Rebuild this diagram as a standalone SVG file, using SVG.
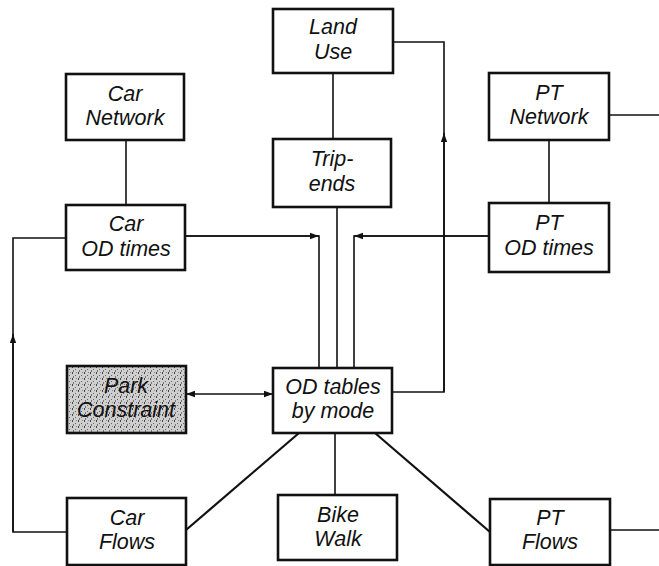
<svg xmlns="http://www.w3.org/2000/svg" width="659" height="566" viewBox="0 0 659 566">
<style>
.box{fill:#fff;stroke:#111;stroke-width:2.6}
.t{font-family:"Liberation Sans",Arial,sans-serif;font-style:italic;font-size:21.5px;fill:#111;text-anchor:middle}
.c{fill:none;stroke:#111;stroke-width:1.6}
.d{fill:none;stroke:#111;stroke-width:2.2}
</style>
<defs>
<marker id="ah" viewBox="0 0 10 10" refX="10" refY="5" markerWidth="9" markerHeight="9" markerUnits="userSpaceOnUse" orient="auto-start-reverse"><path d="M0,1.5 L10,5 L0,8.5 Z" fill="#111"/></marker>
<pattern id="stip" width="6" height="6" patternUnits="userSpaceOnUse">
<rect width="6" height="6" fill="#cfcfcf"/>
<rect x="0" y="0" width="1" height="2" fill="#444"/>
<rect x="3" y="3" width="1" height="1" fill="#666"/>
<rect x="4" y="0" width="1" height="1" fill="#888"/>
<rect x="1" y="4" width="1" height="2" fill="#777"/>
</pattern>
</defs>
<g id="connectors">
<line class="c" x1="333" y1="73" x2="333" y2="139"/>
<line class="c" x1="126" y1="140" x2="126" y2="205"/>
<line class="c" x1="549" y1="140" x2="549" y2="203"/>
<line class="c" x1="609" y1="115" x2="659" y2="115"/>
<polyline class="c" points="393,42 444,42 444,392 392,392"/>
<line class="c" x1="444" y1="392" x2="444" y2="133" marker-end="url(#ah)"/>
<line class="c" x1="337" y1="207" x2="337" y2="368"/>
<polyline class="c" points="185,236 319,236 319,368"/>
<line class="c" x1="185" y1="236" x2="319" y2="236" marker-end="url(#ah)"/>
<polyline class="c" points="489,236 354,236 354,368"/>
<line class="c" x1="489" y1="236" x2="354" y2="236" marker-end="url(#ah)"/>
<polyline class="c" points="66,238 13,238 13,532 67,532"/>
<line class="c" x1="13" y1="532" x2="13" y2="334" marker-end="url(#ah)"/>
<line class="c" x1="186" y1="394" x2="273" y2="394" marker-start="url(#ah)" marker-end="url(#ah)"/>
<line class="d" x1="186" y1="530" x2="299" y2="433"/>
<line class="c" x1="335" y1="433" x2="335" y2="495"/>
<line class="d" x1="375" y1="433" x2="490" y2="532"/>
<line class="c" x1="610" y1="530" x2="659" y2="530"/>
</g>
<g id="land-use"><rect class="box" x="273" y="9" width="120" height="64"/><text class="t" x="333" y="34">Land</text><text class="t" x="333" y="59">Use</text></g>
<g id="trip-ends"><rect class="box" x="273" y="139" width="118" height="68"/><text class="t" x="332" y="166">Trip-</text><text class="t" x="332" y="191">ends</text></g>
<g id="car-network"><rect class="box" x="66" y="74" width="118" height="66"/><text class="t" x="125" y="101">Car</text><text class="t" x="125" y="125">Network</text></g>
<g id="car-od-times"><rect class="box" x="66" y="205" width="119" height="65"/><text class="t" x="126" y="231">Car</text><text class="t" x="126" y="256">OD times</text></g>
<g id="pt-network"><rect class="box" x="489" y="73" width="120" height="67"/><text class="t" x="549" y="100">PT</text><text class="t" x="549" y="124">Network</text></g>
<g id="pt-od-times"><rect class="box" x="489" y="203" width="120" height="69"/><text class="t" x="549" y="230">PT</text><text class="t" x="549" y="255">OD times</text></g>
<g id="park-constraint"><rect class="box" x="67" y="366" width="119" height="67" style="fill:url(#stip)"/><text class="t" x="126" y="393">Park</text><text class="t" x="126" y="417">Constraint</text></g>
<g id="od-tables"><rect class="box" x="273" y="368" width="119" height="65"/><text class="t" x="333" y="394">OD tables</text><text class="t" x="333" y="418">by mode</text></g>
<g id="car-flows"><rect class="box" x="67" y="498" width="119" height="67"/><text class="t" x="127" y="525">Car</text><text class="t" x="127" y="549">Flows</text></g>
<g id="bike-walk"><rect class="box" x="278" y="495" width="119" height="65"/><text class="t" x="338" y="522">Bike</text><text class="t" x="338" y="546">Walk</text></g>
<g id="pt-flows"><rect class="box" x="490" y="499" width="120" height="66"/><text class="t" x="550" y="525">PT</text><text class="t" x="550" y="549">Flows</text></g>
</svg>
